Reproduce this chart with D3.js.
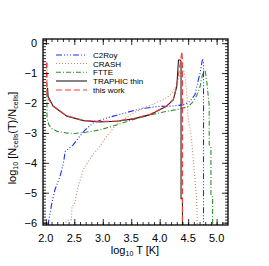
<html>
<head>
<meta charset="utf-8">
<style>
  body { margin: 0; background: #fff; }
  text { font-family: "Liberation Sans", Arial, sans-serif; }
</style>
</head>
<body>
<script src="https://cdnjs.cloudflare.com/ajax/libs/d3/7.8.5/d3.min.js"></script>
<script>
var w = 269, h = 266;
var m = {left: 43, right: 41, top: 39, bottom: 41};

// [log10 T, log10 Ncells(T)/Ncells]
var c2ray = [[2.04,-6.1],[2.05,-5.95],[2.10,-5.4],[2.16,-4.9],[2.25,-4.45],[2.31,-4.0],[2.34,-3.62],
  [2.48,-3.4],[2.60,-3.1],[2.69,-2.9],[2.83,-2.67],[3.07,-2.5],[3.36,-2.35],[3.65,-2.2],[3.95,-2.12],
  [4.24,-2.1],[4.42,-2.06],[4.53,-1.95],[4.62,-1.72],[4.68,-1.22],[4.71,-1.0],[4.75,-0.56],[4.77,-0.6],[4.77,-6.1]];
var crash = [[2.34,-6.1],[2.36,-5.95],[2.45,-5.9],[2.46,-5.45],[2.50,-5.4],[2.57,-4.78],[2.66,-4.22],
  [2.75,-3.95],[2.83,-3.72],[2.95,-3.45],[3.07,-3.11],[3.16,-2.9],[3.25,-2.7],[3.54,-2.33],[3.83,-2.08],
  [4.06,-1.89],[4.18,-1.75],[4.27,-1.5],[4.33,-1.2],[4.38,-0.95],[4.42,-0.89],[4.45,-1.2],[4.475,-1.67],
  [4.50,-2.5],[4.53,-2.83],[4.56,-3.22],[4.58,-3.67],[4.62,-4.56],[4.65,-5.22],[4.66,-6.1]];
var ftte = [[2.02,-0.65],[2.02,-2.5],[2.05,-2.72],[2.10,-2.85],[2.20,-2.95],[2.35,-3.0],[2.50,-3.02],
  [2.70,-2.98],[2.95,-2.9],[3.25,-2.73],[3.54,-2.55],[3.83,-2.4],[4.12,-2.28],[4.36,-2.2],[4.50,-2.12],
  [4.59,-1.95],[4.65,-1.75],[4.71,-1.45],[4.75,-1.06],[4.78,-0.9],[4.80,-0.92],[4.83,-1.33],[4.87,-2.1],
  [4.87,-3.4],[4.90,-3.45],[4.90,-5.1],[4.93,-5.15],[4.93,-6.1]];
var traphic = [[2.03,-1.5],[2.04,-1.78],[2.13,-2.11],[2.37,-2.44],[2.66,-2.59],[2.95,-2.63],[3.25,-2.61],
  [3.54,-2.53],[3.83,-2.39],[4.12,-2.11],[4.24,-1.89],[4.30,-1.45],[4.33,-0.56],[4.36,-0.56],[4.375,-0.6],
  [4.375,-5.2],[4.40,-5.2],[4.40,-6.1]];
var thiswork = [[2.01,-0.65],[2.02,-1.8],[2.13,-2.1],[2.37,-2.43],[2.66,-2.58],[2.95,-2.62],[3.25,-2.6],
  [3.54,-2.52],[3.83,-2.38],[4.12,-2.1],[4.24,-1.87],[4.30,-1.4],[4.35,-0.8],[4.39,-0.28],[4.40,-0.6],
  [4.40,-6.1]];

var names = ["C2Roy", "CRASH", "FTTE", "TRAPHIC thin", "this work"];
var colors = ["#1a2cff", "#c98a62", "#2f8f2f", "#222222", "#ff3a3a"];
var dashes = ["6,2,1,2,1,2,1,2", "1,2", "5,2,1,2", null, "6,3"];
var series = [c2ray, crash, ftte, traphic, thiswork];

var xTicks = [2.0, 2.5, 3.0, 3.5, 4.0, 4.5, 5.0];
var yTicks = [0, -1, -2, -3, -4, -5, -6];

var svg = d3.select('body').append('svg').attr('width', w).attr('height', h);

var x = d3.scaleLinear().domain([1.95, 5.2]).range([m.left, w - m.right]);
var y = d3.scaleLinear().domain([-6.08, 0.14]).range([h - m.bottom, m.top]);

svg.append('clipPath').attr('id', 'clip').append('rect')
  .attr('x', m.left).attr('y', m.top)
  .attr('width', w - m.left - m.right).attr('height', h - m.top - m.bottom);

var line = d3.line().x(d => x(d[0])).y(d => y(d[1]));

svg.append('g').attr('clip-path', 'url(#clip)')
  .selectAll('path').data(series).enter().append('path')
  .attr('d', line)
  .attr('fill', 'none')
  .attr('stroke', (d, i) => colors[i])
  .attr('stroke-width', 1.1)
  .attr('stroke-dasharray', (d, i) => dashes[i]);

// axes with inward ticks, mirrored on all four sides
var xMinor = d3.range(20, 52, 1).map(v => v / 10);
var yMinor = d3.range(-60, 2, 1).map(v => v / 10);

function drawAxis(tx, ty, axisFn, scale, major, minor) {
  var g = svg.append('g').attr('transform', 'translate(' + tx + ',' + ty + ')');
  g.append('g').call(axisFn(scale).tickValues(minor).tickSize(3).tickFormat('')).select('.domain').remove();
  g.append('g').call(axisFn(scale).tickValues(major).tickSize(6).tickFormat('')).select('.domain').remove();
}
drawAxis(0, h - m.bottom, d3.axisTop, x, xTicks, xMinor);
drawAxis(0, m.top, d3.axisBottom, x, xTicks, xMinor);
drawAxis(m.left, 0, d3.axisRight, y, yTicks, yMinor);
drawAxis(w - m.right, 0, d3.axisLeft, y, yTicks, yMinor);
svg.selectAll('.tick line').attr('stroke', '#000').attr('stroke-width', 0.8);

svg.append('rect').attr('x', m.left).attr('y', m.top)
  .attr('width', w - m.left - m.right).attr('height', h - m.top - m.bottom)
  .attr('fill', 'none').attr('stroke', '#000').attr('stroke-width', 1.3);

svg.selectAll('.xl').data(xTicks).enter().append('text')
  .attr('x', d => x(d)).attr('y', 242)
  .attr('text-anchor', 'middle').attr('font-size', 11)
  .text(d => d.toFixed(1));

svg.selectAll('.yl').data(yTicks).enter().append('text')
  .attr('x', 37).attr('y', d => y(d) + 4)
  .attr('text-anchor', 'end').attr('font-size', 11)
  .text(d => d === 0 ? '0' : '\u2212' + Math.abs(d));

// axis titles
var xt = svg.append('text').attr('x', 135).attr('y', 254).attr('text-anchor', 'middle').attr('font-size', 11);
xt.append('tspan').text('log');
xt.append('tspan').attr('font-size', 7).attr('dy', 2).text('10');
xt.append('tspan').attr('dy', -2).text(' T [K]');

var yt = svg.append('text').attr('transform', 'translate(16,138) rotate(-90)')
  .attr('text-anchor', 'middle').attr('font-size', 11);
yt.append('tspan').text('log');
yt.append('tspan').attr('font-size', 7).attr('dy', 2).text('10');
yt.append('tspan').attr('dy', -2).text(' [N');
yt.append('tspan').attr('font-size', 7).attr('dy', 2).text('cells');
yt.append('tspan').attr('dy', -2).text('(T)/N');
yt.append('tspan').attr('font-size', 7).attr('dy', 2).text('cells');
yt.append('tspan').attr('dy', -2).text(']');

// legend
var rows = [55, 63.5, 72.3, 81, 90];
var lg = svg.append('g');
lg.selectAll('line').data(names).enter().append('line')
  .attr('x1', 56).attr('x2', 87)
  .attr('y1', (d, i) => rows[i]).attr('y2', (d, i) => rows[i])
  .attr('stroke', (d, i) => colors[i]).attr('stroke-width', 1.1)
  .attr('stroke-dasharray', (d, i) => dashes[i]);
lg.selectAll('text').data(names).enter().append('text')
  .attr('x', 93).attr('y', (d, i) => rows[i] + 3)
  .attr('font-size', 8).text(d => d);
</script>
</body>
</html>
